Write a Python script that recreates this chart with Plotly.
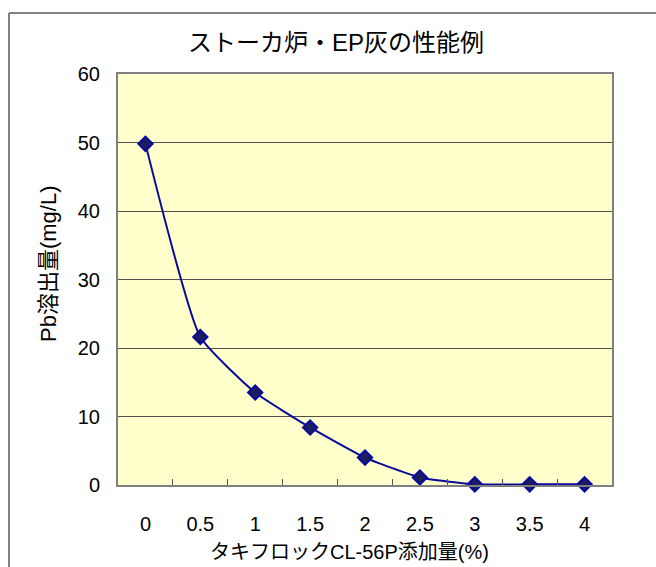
import plotly.graph_objects as go

additive = ["0", "0.5", "1", "1.5", "2", "2.5", "3", "3.5", "4"]
pb = [49.8, 21.6, 13.5, 8.4, 4.0, 1.1, 0.1, 0.1, 0.1]
y_ticks = [0, 10, 20, 30, 40, 50, 60]

title_text = "ストーカ炉・EP灰の性能例"
x_title = "タキフロックCL-56P添加量(%)"
y_title = "Pb溶出量(mg/L)"

FONT = "Liberation Sans, Arial, Noto Sans CJK JP, sans-serif"

PL, PR, PT, PB = 118, 612, 74, 485  # plot area in page pixels
W, H = PR - PL, PB - PT
FIG_W, FIG_H = 656, 567


def px(x):
    return (x - PL) / W


def py(y):
    return (PB - y) / H


fig = go.Figure()
fig.add_trace(go.Scatter(
    x=additive, y=pb, mode="lines+markers",
    line=dict(color="#0a0a9a", width=2, shape="spline", smoothing=0.45),
    marker=dict(symbol="diamond", size=11, color="#1c1c60",
                line=dict(color="#0a0aa0", width=2)),
    showlegend=False, cliponaxis=False,
))

fig.update_layout(
    width=FIG_W, height=FIG_H,
    margin=dict(l=PL, r=FIG_W - PR, t=PT, b=FIG_H - PB),
    paper_bgcolor="white", plot_bgcolor="#FFFFCC",
    font=dict(family=FONT, size=20, color="black"),
    xaxis=dict(type="category", range=[-0.5, 8.5], showgrid=False,
               ticks="inside", tickson="boundaries", ticklen=6,
               tickcolor="#555555", tickwidth=1,
               showline=True, linecolor="#808080", linewidth=2, mirror=True,
               ticklabelstandoff=20, tickfont=dict(size=20)),
    yaxis=dict(range=[0, 60], tickvals=y_ticks, showgrid=True,
               gridcolor="#505050", gridwidth=1, zeroline=False,
               ticks="", showline=True, linecolor="#808080", linewidth=2,
               mirror=True, ticklabelstandoff=12, tickfont=dict(size=20)),
    annotations=[
        dict(text=title_text, xref="paper", yref="paper",
             x=px(336), y=py(43), xanchor="center",
             yanchor="middle", showarrow=False, font=dict(size=24)),
        dict(text=x_title, xref="paper", yref="paper",
             x=px(349), y=py(552), xanchor="center",
             yanchor="middle", showarrow=False, font=dict(size=20)),
        dict(text=y_title, xref="paper", yref="paper", textangle=-90,
             x=px(48), y=py(264), xanchor="center",
             yanchor="middle", showarrow=False, font=dict(size=22)),
    ],
    shapes=[
        dict(type="line", xref="paper", yref="paper",
             x0=px(9), x1=px(700), y0=py(13), y1=py(13),
             line=dict(color="#808080", width=2)),
        dict(type="line", xref="paper", yref="paper",
             x0=px(9), x1=px(9), y0=py(13), y1=py(620),
             line=dict(color="#808080", width=2)),
    ],
)

fig.write_html(
    "out.html",
    config={"displayModeBar": False},
    post_script="document.body.style.margin='0px';"
                "document.body.style.overflow='hidden';",
)
